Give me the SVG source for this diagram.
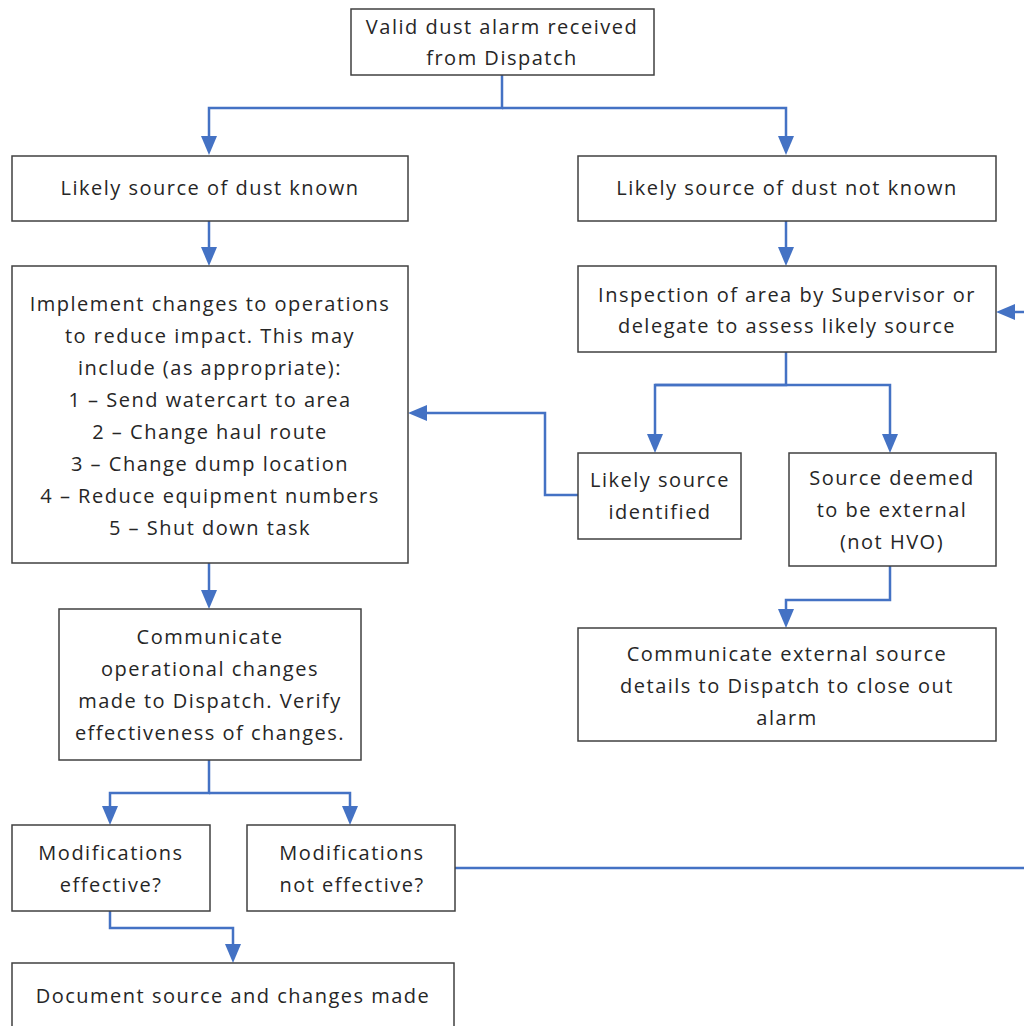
<svg xmlns="http://www.w3.org/2000/svg" width="1024" height="1026" viewBox="0 0 1024 1026">
<style>
.box{fill:#fff;stroke:#404040;stroke-width:1.5}
.t{font-family:"Open Sans","Liberation Sans",Arial,sans-serif;font-size:20px;letter-spacing:1.5px;fill:#262626;text-anchor:middle;dominant-baseline:central}
.c{fill:none;stroke:#4472C4;stroke-width:2.5}
.ah{fill:#4472C4}
</style>
<rect width="1024" height="1026" fill="#fff"/>
<g id="connectors">
<path class="c" d="M502,75 V108 H209 V140"/>
<path class="c" d="M502,108 H786 V140"/>
<path class="c" d="M209,221 V250"/>
<path class="c" d="M786,221 V250"/>
<path class="c" d="M786,352 V385 H655 V437"/>
<path class="c" d="M655,385 H890 V437"/>
<path class="c" d="M578,495 H545 V413 H424"/>
<path class="c" d="M890,566 V600 H786 V612"/>
<path class="c" d="M209,563 V593"/>
<path class="c" d="M209,760 V793 H110 V809"/>
<path class="c" d="M209,793 H350 V809"/>
<path class="c" d="M455,868 H1024"/>
<path class="c" d="M110,911 V928 H233 V947"/>
<path class="c" d="M1024,312 H1012"/>
<g class="ah">
<path d="M201,136 L217,136 L209,155 z"/>
<path d="M778,136 L794,136 L786,155 z"/>
<path d="M201,247 L217,247 L209,266 z"/>
<path d="M778,247 L794,247 L786,266 z"/>
<path d="M647,434 L663,434 L655,453 z"/>
<path d="M882,434 L898,434 L890,453 z"/>
<path d="M427,405 L427,421 L408,413 z"/>
<path d="M778,609 L794,609 L786,628 z"/>
<path d="M201,590 L217,590 L209,609 z"/>
<path d="M102,806 L118,806 L110,825 z"/>
<path d="M342,806 L358,806 L350,825 z"/>
<path d="M225,944 L241,944 L233,963 z"/>
<path d="M1015,304 L1015,320 L996,312 z"/>
</g>
</g>
<g id="n1"><rect class="box" x="351" y="9" width="303" height="66"/><text class="t" x="502" y="26">Valid dust alarm received</text><text class="t" x="502" y="57">from Dispatch</text></g>
<g id="n2"><rect class="box" x="12" y="156" width="396" height="65"/><text class="t" x="210" y="187">Likely source of dust known</text></g>
<g id="n3"><rect class="box" x="578" y="156" width="418" height="65"/><text class="t" x="787" y="187">Likely source of dust not known</text></g>
<g id="n4"><rect class="box" x="12" y="266" width="396" height="297"/>
<text class="t" x="210" y="303">Implement changes to operations</text>
<text class="t" x="210" y="335">to reduce impact. This may</text>
<text class="t" x="210" y="367">include (as appropriate):</text>
<text class="t" x="210" y="399">1 – Send watercart to area</text>
<text class="t" x="210" y="431">2 – Change haul route</text>
<text class="t" x="210" y="463">3 – Change dump location</text>
<text class="t" x="210" y="495">4 – Reduce equipment numbers</text>
<text class="t" x="210" y="527">5 – Shut down task</text></g>
<g id="n5"><rect class="box" x="578" y="266" width="418" height="86"/><text class="t" x="787" y="294">Inspection of area by Supervisor or</text><text class="t" x="787" y="325">delegate to assess likely source</text></g>
<g id="n6"><rect class="box" x="578" y="453" width="163" height="86"/><text class="t" x="660" y="479">Likely source</text><text class="t" x="660" y="511">identified</text></g>
<g id="n7"><rect class="box" x="789" y="453" width="207" height="113"/><text class="t" x="892" y="477">Source deemed</text><text class="t" x="892" y="509">to be external</text><text class="t" x="892" y="541">(not HVO)</text></g>
<g id="n8"><rect class="box" x="578" y="628" width="418" height="113"/><text class="t" x="787" y="653">Communicate external source</text><text class="t" x="787" y="685">details to Dispatch to close out</text><text class="t" x="787" y="717">alarm</text></g>
<g id="n9"><rect class="box" x="59" y="609" width="302" height="151"/><text class="t" x="210" y="636">Communicate</text><text class="t" x="210" y="668">operational changes</text><text class="t" x="210" y="700">made to Dispatch. Verify</text><text class="t" x="210" y="732">effectiveness of changes.</text></g>
<g id="n10"><rect class="box" x="12" y="825" width="198" height="86"/><text class="t" x="111" y="852">Modifications</text><text class="t" x="111" y="884">effective?</text></g>
<g id="n11"><rect class="box" x="247" y="825" width="208" height="86"/><text class="t" x="352" y="852">Modifications</text><text class="t" x="352" y="884">not effective?</text></g>
<g id="n12"><rect class="box" x="12" y="963" width="442" height="80"/><text class="t" x="233" y="995">Document source and changes made</text></g>
</svg>
